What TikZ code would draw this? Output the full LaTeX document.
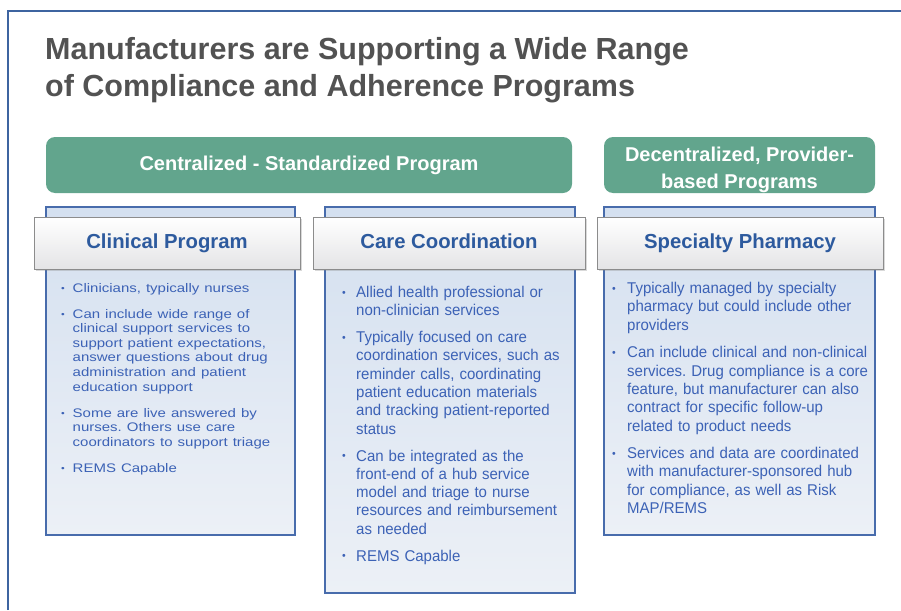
\documentclass[tikz,border=0pt]{standalone}
\usepackage{fontspec}
\setmainfont{Liberation Sans}
\usetikzlibrary{positioning,shadows}

\definecolor{framblue}{RGB}{62,100,160}
\definecolor{titlegray}{RGB}{82,82,82}
\definecolor{progreen}{RGB}{98,165,141}
\definecolor{panelblue}{RGB}{72,108,172}
\definecolor{paneltop}{RGB}{212,224,240}
\definecolor{panelbot}{RGB}{236,240,246}
\definecolor{tabgray}{RGB}{140,140,140}
\definecolor{tabbot}{RGB}{228,228,230}
\definecolor{tabblue}{RGB}{45,90,158}
\definecolor{pointblue}{RGB}{60,98,182}

\frenchspacing

% one bullet point, the later lines hang under the text
\newlength{\bulind}
\newcommand{\progitem}[1]{\noindent\hangindent=\bulind\hangafter=1%
  \makebox[\bulind][l]{\raisebox{0.15ex}{\scalebox{0.7}{\textbullet}}}#1\par}

\begin{document}
\begin{tikzpicture}[x=1pt, y=-1pt,
    heading/.style={anchor=north west, inner sep=0pt, align=left, text=titlegray,
        font=\fontsize{30.5}{37}\selectfont\bfseries},
    group/.style={fill=progreen, rounded corners=9pt, minimum height=56pt},
    grouptext/.style={text=white, align=center, font=\fontsize{20}{27}\selectfont\bfseries},
    panel/.style={draw=panelblue, line width=1.2pt, top color=paneltop, bottom color=panelbot},
    tab/.style={draw=tabgray, line width=0.8pt, top color=white, bottom color=tabbot,
        minimum height=52pt, text=tabblue, font=\fontsize{20.3}{24}\selectfont\bfseries,
        text height=14.5pt, text depth=4pt,
        drop shadow={shadow xshift=1.5pt, shadow yshift=-2pt, opacity=0.3}},
    points/.style={anchor=north west, inner sep=0pt, text width=300pt, text=pointblue,
        font=\fontsize{15}{17.6}\selectfont, transform shape}
]

\useasboundingbox (0,0) rectangle (901,610);

% frame
\draw[framblue, line width=1.2pt] (8,610) -- (8,11) -- (901,11);

\node[heading] (title) at (45,37)
    {Manufacturers are Supporting a Wide Range\\of Compliance and Adherence Programs};

% program groups
\node[group, minimum width=526pt] (central) at (309,165) {};
\node[grouptext] at (central) {Centralized - Standardized Program};
\node[group, minimum width=271pt] (decentral) at (739.5,165) {};
\node[grouptext] at ([yshift=-4.5pt]decentral) {Decentralized, Provider-\\based Programs};

% panels behind the tabs
\node[panel, minimum width=249pt, minimum height=328pt] (clinbox) at (170.5,371) {};
\node[panel, minimum width=250pt, minimum height=386pt] (carebox) at (450,400) {};
\node[panel, minimum width=271pt, minimum height=328pt] (pharmbox) at (739.5,371) {};

\node[tab, minimum width=266pt] (clinical) at (167,243) {Clinical Program};
\node[tab, minimum width=272pt] (care) at (449,243) {Care Coordination};
\node[tab, minimum width=286pt] (pharmacy) at (740,243) {Specialty Pharmacy};

% bullet points
\node[points, yscale=0.83] (clinlist) at (61,283) {\setlength{\bulind}{11.5pt}\setlength{\parskip}{13.6pt}%
  \progitem{Clinicians, typically nurses}
  \progitem{Can include wide range of\newline clinical support services to\newline support patient expectations,\newline answer questions about drug\newline administration and patient\newline education support}
  \progitem{Some are live answered by\newline nurses. Others use care\newline coordinators to support triage}
  \progitem{REMS Capable}};

\node[points, yscale=1.04] (carelist) at (342,286) {\setlength{\bulind}{14pt}\setlength{\parskip}{8.2pt}%
  \progitem{Allied health professional or\newline non-clinician services}
  \progitem{Typically focused on care\newline coordination services, such as\newline reminder calls, coordinating\newline patient education materials\newline and tracking patient-reported\newline status}
  \progitem{Can be integrated as the\newline front-end of a hub service\newline model and triage to nurse\newline resources and reimbursement\newline as needed}
  \progitem{REMS Capable}};

\node[points, yscale=1.04] (pharmlist) at (612,282) {\setlength{\bulind}{15pt}\setlength{\parskip}{9pt}%
  \progitem{Typically managed by specialty\newline pharmacy but could include other\newline providers}
  \progitem{Can include clinical and non-clinical\newline services. Drug compliance is a core\newline feature, but manufacturer can also\newline contract for specific follow-up\newline related to product needs}
  \progitem{Services and data are coordinated\newline with manufacturer-sponsored hub\newline for compliance, as well as Risk\newline MAP/REMS}};

\end{tikzpicture}
\end{document}
